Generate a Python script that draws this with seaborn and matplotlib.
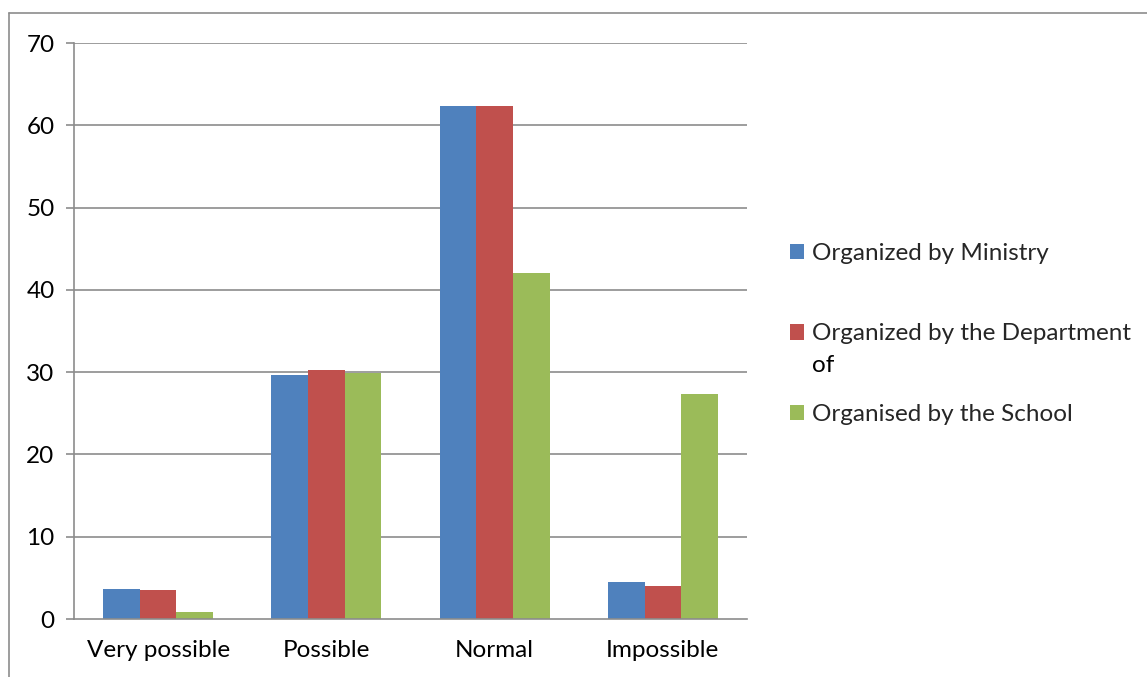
import matplotlib
matplotlib.use("Agg")
import matplotlib.pyplot as plt
import seaborn as sns
import pandas as pd
from matplotlib.lines import Line2D
from matplotlib.patches import Patch

categories = ["Very possible", "Possible", "Normal", "Impossible"]
series_names = ["Organized by Ministry", "Organized by the Department", "Organised by the School"]
department_wrap = "of"
ministry = [3.7, 29.6, 62.4, 4.5]
department = [3.5, 30.3, 62.4, 4.0]
school = [0.8, 29.9, 42.1, 27.4]
colors = ["#4F81BD", "#C0504D", "#9BBB59"]
y_ticks = [0, 10, 20, 30, 40, 50, 60, 70]

rows = []
for name, vals in zip(series_names, [ministry, department, school]):
    for cat, v in zip(categories, vals):
        rows.append({"category": cat, "series": name, "value": v})
df = pd.DataFrame(rows)

sns.set_theme(style="white")
plt.rcParams["font.family"] = ["Lato", "DejaVu Sans"]

W, H = 1147, 677
fig = plt.figure(figsize=(W / 100, H / 100), dpi=100)
ax = fig.add_axes([74 / W, 1 - 619 / H, (747 - 74) / W, (619 - 43) / H])

sns.barplot(data=df, x="category", y="value", hue="series", order=categories,
            hue_order=series_names, palette=colors, width=0.655, saturation=1,
            errorbar=None, ax=ax, legend=False, edgecolor="none")

grid_c = "#8C8C8C"
fs = 17.5
ax.set_ylim(0, 70)
ax.set_xlim(-0.5, 3.5)
ax.set_yticks(y_ticks)
ax.set_yticklabels([str(t) for t in y_ticks])
for t in y_ticks[1:]:
    ax.axhline(t, color=grid_c, lw=1.2, zorder=0)
ax.set_axisbelow(True)

for s in ["top", "right"]:
    ax.spines[s].set_visible(False)
for s in ["left", "bottom"]:
    ax.spines[s].set_color(grid_c)
    ax.spines[s].set_linewidth(1.2)

ax.set_xticks(range(len(categories)))
ax.set_xticklabels(categories)
ax.set_xticks([-0.5, 0.5, 1.5, 2.5, 3.5], minor=True)
ax.tick_params(axis="x", which="major", length=0, pad=15, labelsize=fs, labelcolor="black")
ax.tick_params(axis="x", which="minor", length=7, width=1.2, color=grid_c, direction="out")
ax.tick_params(axis="y", which="major", length=6, width=1.2, color=grid_c, direction="out",
               left=True, pad=8, labelsize=fs, labelcolor="black")
ax.set_xlabel("")
ax.set_ylabel("")

handles = [Patch(facecolor=c, edgecolor="none") for c in colors]
leg = fig.legend(handles, series_names, loc="upper left", bbox_to_anchor=(768 / W, 1 - 221 / H),
                 frameon=False, fontsize=fs, handlelength=0.6, handleheight=0.6,
                 handletextpad=0.3, labelspacing=2.45)

# second line of the department label, below its first line
fig.canvas.draw()
bb = leg.get_texts()[1].get_window_extent()
fig.text(bb.x0 / W, (bb.y0 - 32) / H, department_wrap, fontsize=fs, color="black",
         ha="left", va="bottom")

# outer chart frame
fig.add_artist(Line2D([9 / W, 1], [1 - 13 / H, 1 - 13 / H], transform=fig.transFigure,
                      color=grid_c, lw=1.2))
fig.add_artist(Line2D([9 / W, 9 / W], [0, 1 - 13 / H], transform=fig.transFigure,
                      color=grid_c, lw=1.2))

fig.savefig("out.png", dpi=100)
